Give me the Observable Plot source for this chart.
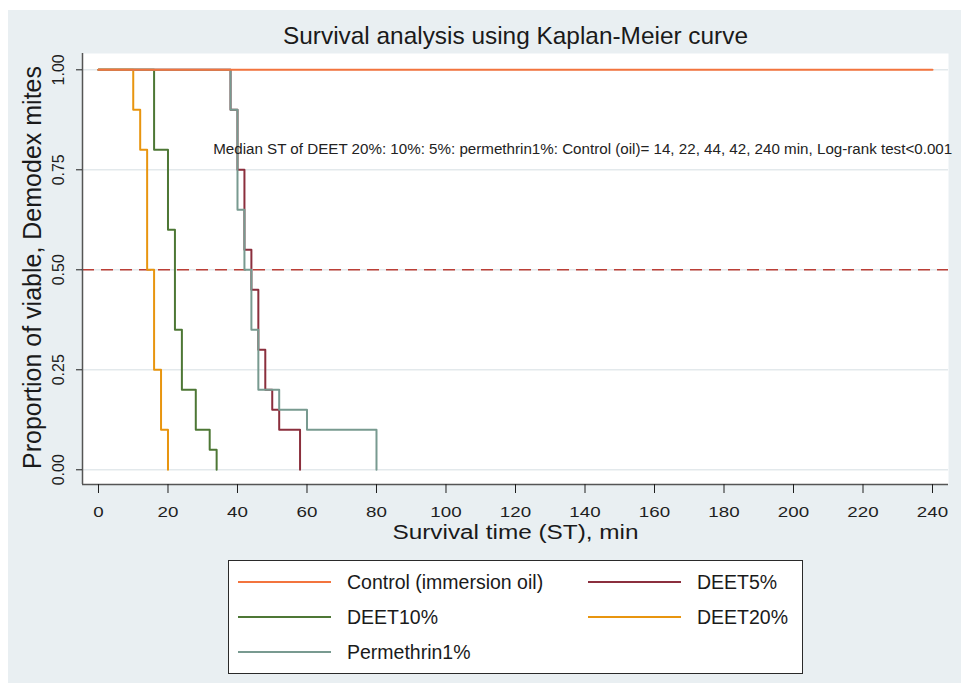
<!DOCTYPE html>
<html>
<head>
<meta charset="utf-8">
<script src="https://cdn.jsdelivr.net/npm/d3@7"></script>
<script src="https://cdn.jsdelivr.net/npm/@observablehq/plot@0.6"></script>
<style>
  html, body { margin: 0; padding: 0; background: #ffffff; }
  #page { position: relative; width: 961px; height: 683px; overflow: hidden; font-family: "Liberation Sans", Arial, sans-serif; }
  #panel { position: absolute; left: 8px; top: 10px; right: 0; bottom: 0; background: #e9eff2; }
  #chart { position: absolute; left: 0; top: 0; }
  #legend { position: absolute; left: 228px; top: 560px; width: 573px; height: 112px; background: #ffffff; border: 1px solid #2a2a2a; }
  .item { position: absolute; height: 24px; display: flex; align-items: center; font-size: 19.5px; color: #1a1a1a; white-space: nowrap; }
  .swatch { width: 93px; height: 0; border-top: 2.5px solid; margin-right: 16px; }
</style>
</head>
<body>
<div id="page">
  <div id="panel"></div>
  <div id="chart"></div>
  <div id="legend"></div>
</div>
<script>
// ---- data ----
const seriesNames  = ["Control (immersion oil)", "DEET5%", "DEET10%", "DEET20%", "Permethrin1%"];
const seriesColors = ["#f3743e", "#8b2f3d", "#4d7735", "#e8950f", "#789a90"];

const controlTime = [0, 240];
const controlSurv = [1, 1];
const deet5Time   = [0, 38, 40, 42, 44, 46, 48, 50, 52, 58];
const deet5Surv   = [1, 0.9, 0.75, 0.55, 0.45, 0.3, 0.2, 0.15, 0.1, 0];
const deet10Time  = [0, 16, 20, 22, 24, 28, 32, 34];
const deet10Surv  = [1, 0.8, 0.6, 0.35, 0.2, 0.1, 0.05, 0];
const deet20Time  = [0, 10, 12, 14, 16, 18, 20];
const deet20Surv  = [1, 0.9, 0.8, 0.5, 0.25, 0.1, 0];
const permTime    = [0, 38, 40, 42, 44, 46, 52, 60, 80];
const permSurv    = [1, 0.9, 0.65, 0.5, 0.35, 0.2, 0.15, 0.1, 0];

const xTicks = [0, 20, 40, 60, 80, 100, 120, 140, 160, 180, 200, 220, 240];
const yTicks = [0, 0.25, 0.5, 0.75, 1];
const medianLevel = [0.5];

const titleText = "Survival analysis using Kaplan-Meier curve";
const xLabel = "Survival time (ST), min";
const yLabel = "Proportion of viable, Demodex mites";
const noteText = "Median ST of DEET 20%: 10%: 5%: permethrin1%: Control (oil)= 14, 22, 44, 42, 240 min, Log-rank test<0.001";

// ---- build table (draw order: control last, on top) ----
const seriesData = [
  ["DEET5%", deet5Time, deet5Surv],
  ["DEET10%", deet10Time, deet10Surv],
  ["DEET20%", deet20Time, deet20Surv],
  ["Permethrin1%", permTime, permSurv],
  ["Control (immersion oil)", controlTime, controlSurv]
];
const rows = seriesData.flatMap(([name, ts, ss]) => ts.map((t, i) => ({series: name, t, s: ss[i]})));

const xDomain = [-4.6, 244.6];
const yDomain = [-0.0368, 1.0408];

const chart = Plot.plot({
  width: 961,
  height: 560,
  marginLeft: 82,
  marginRight: 13,
  marginTop: 53,
  marginBottom: 76,
  style: {background: "transparent", fontFamily: "'Liberation Sans', Arial, sans-serif", color: "#1e1e1e", overflow: "visible"},
  x: {domain: xDomain},
  y: {domain: yDomain},
  color: {domain: seriesNames, range: seriesColors},
  marks: [
    Plot.frame({fill: "#ffffff", stroke: "none"}),
    Plot.ruleY(yTicks, {stroke: "#e3e9ec", strokeWidth: 1.5}),
    Plot.ruleY(medianLevel, {stroke: "#bb3f37", strokeWidth: 1.5, strokeDasharray: "12,7"}),
    Plot.line(rows, {x: "t", y: "s", z: "series", stroke: "series", curve: "step-after", strokeWidth: 2}),
    Plot.ruleX([xDomain[0]], {stroke: "#555", strokeWidth: 1.5}),
    Plot.ruleY([yDomain[0]], {stroke: "#555", strokeWidth: 1.5}),
    Plot.axisX({ticks: xTicks, tickSize: 9, tickPadding: 13, fontSize: 15, label: null, tickFormat: d3.format("d")}),
    Plot.axisY({ticks: yTicks, tickFormat: d3.format(".2f"), tickRotate: -90, tickSize: 6, tickPadding: 13, fontSize: 16, label: null}),
    Plot.text([noteText], {x: 33, y: 0.8, text: d => d, textAnchor: "start", lineAnchor: "middle", fontSize: 14, fill: "#222"}),
    Plot.text([titleText], {frameAnchor: "top", text: d => d, lineAnchor: "bottom", dy: -9.7, fontSize: 24.4, fill: "#1a1a1a"}),
    Plot.text([xLabel], {frameAnchor: "bottom", text: d => d, lineAnchor: "bottom", dy: 54.5, fontSize: 20, fill: "#1a1a1a"}),
    Plot.text([yLabel], {frameAnchor: "left", text: d => d, rotate: -90, textAnchor: "middle", lineAnchor: "bottom", dx: -42, dy: -1.5, fontSize: 25, fill: "#1a1a1a"})
  ]
});
document.getElementById("chart").appendChild(chart);

// fit widths of a few texts to the reference
function fit(el, len) {
  el.setAttribute("textLength", len);
  el.setAttribute("lengthAdjust", "spacingAndGlyphs");
}
chart.querySelectorAll("text").forEach(el => {
  const s = el.textContent;
  if (s === noteText) fit(el, 739);
  else if (s === xLabel) fit(el, 246);
  else if (s === titleText) fit(el, 465);
});
chart.querySelectorAll('g[aria-label="x-axis tick label"] text').forEach(el => {
  fit(el, el.getComputedTextLength() * 1.25);
});

// ---- legend (row-major, two columns) ----
const legendOrder = ["Control (immersion oil)", "DEET5%", "DEET10%", "DEET20%", "Permethrin1%"];
const legend = document.getElementById("legend");
legendOrder.forEach((name, i) => {
  const col = i % 2, row = Math.floor(i / 2);
  const item = document.createElement("div");
  item.className = "item";
  item.style.left = (col === 0 ? 9 : 359) + "px";
  item.style.top = (21 + row * 35 - 12) + "px";
  const sw = document.createElement("span");
  sw.className = "swatch";
  sw.style.borderTopColor = seriesColors[seriesNames.indexOf(name)];
  const lab = document.createElement("span");
  lab.textContent = name;
  item.appendChild(sw);
  item.appendChild(lab);
  legend.appendChild(item);
});
</script>
</body>
</html>
